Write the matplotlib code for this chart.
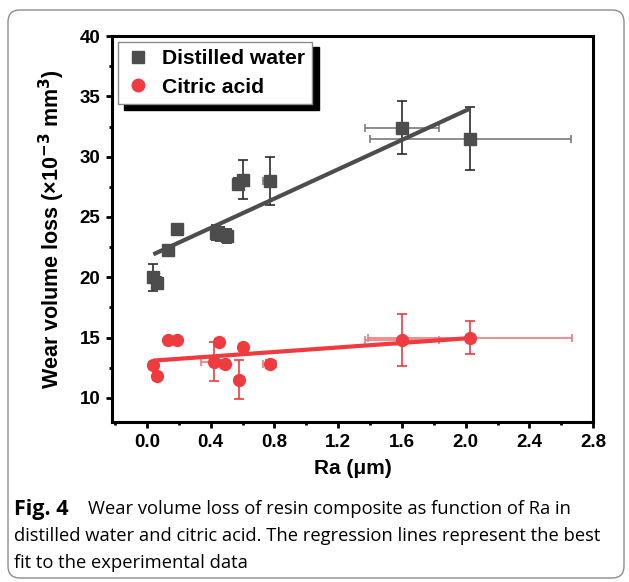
import matplotlib
matplotlib.use("Agg")
import numpy as np
import matplotlib.pyplot as plt
from matplotlib.lines import Line2D
from matplotlib.patches import FancyBboxPatch
from matplotlib.ticker import MultipleLocator
from matplotlib.transforms import IdentityTransform

plt.rcParams["font.family"] = ["Liberation Sans", "DejaVu Sans"]

# 증류수 (distilled water)
water_ra = [0.04, 0.06, 0.13, 0.19, 0.43, 0.46, 0.50, 0.57, 0.60, 0.77, 1.60, 2.03]
water_wear = [20.0, 19.5, 22.3, 24.0, 23.7, 23.6, 23.4, 27.7, 28.1, 28.0, 32.4, 31.5]
water_ra_err = [0.01, 0.01, 0.02, 0.01, 0.03, 0.03, 0.04, 0.03, 0.02, 0.04, 0.23, 0.63]
water_wear_err = [1.1, 0.5, 0.3, 0.2, 0.6, 0.6, 0.6, 0.5, 1.6, 2.0, 2.2, 2.6]
water_fit = (21.66, 6.08)  # 절편, 기울기

# 구연산 (citric acid)
citric_ra = [0.04, 0.06, 0.13, 0.19, 0.42, 0.45, 0.49, 0.58, 0.60, 0.77, 1.60, 2.03]
citric_wear = [12.7, 11.8, 14.8, 14.8, 13.0, 14.6, 12.8, 11.5, 14.2, 12.8, 14.8, 15.0]
citric_ra_err = [0.01, 0.01, 0.02, 0.02, 0.08, 0.02, 0.03, 0.03, 0.02, 0.04, 0.23, 0.64]
citric_wear_err = [0.3, 0.3, 0.2, 0.2, 1.6, 0.3, 0.3, 1.6, 0.2, 0.3, 2.15, 1.4]
citric_fit = (13.05, 0.94)

water_color = "#4d4d4d"
citric_color = "#ee3b3f"

fig = plt.figure(figsize=(6.29, 5.82), dpi=100)
ax = fig.add_axes([0.178, 0.275, 0.765, 0.663])

def draw_series(ra, wear, ra_err, wear_err, fit, color, xcolor, ycolor, marker, ms):
    ax.errorbar(ra, wear, xerr=ra_err, fmt="none", ecolor=xcolor, elinewidth=1.2,
                capsize=3, capthick=1.2, zorder=2)
    ax.errorbar(ra, wear, yerr=wear_err, fmt="none", ecolor=ycolor, elinewidth=1.2,
                capsize=3.5, capthick=1.2, zorder=2)
    ax.plot(ra, wear, linestyle="none", marker=marker, ms=ms, color=color, zorder=3)
    fx = np.array([min(ra), max(ra)])
    ax.plot(fx, fit[0] + fit[1] * fx, color=color, lw=3, zorder=4, solid_capstyle="butt")

draw_series(water_ra, water_wear, water_ra_err, water_wear_err, water_fit,
            water_color, "#7a7a7a", "#2b2b2b", "s", 8)
draw_series(citric_ra, citric_wear, citric_ra_err, citric_wear_err, citric_fit,
            citric_color, "#f07a7a", citric_color, "o", 8.5)

ax.set_xlim(-0.22, 2.8)
ax.set_ylim(8, 40)
ax.xaxis.set_major_locator(MultipleLocator(0.4))
ax.xaxis.set_minor_locator(MultipleLocator(0.2))
ax.yaxis.set_major_locator(MultipleLocator(5))
ax.yaxis.set_minor_locator(MultipleLocator(2.5))
ax.set_xticks(np.arange(0, 2.81, 0.4))
ax.set_xticklabels(["0.0", "0.4", "0.8", "1.2", "1.6", "2.0", "2.4", "2.8"])

for s in ax.spines.values():
    s.set_linewidth(2.2)
ax.tick_params(which="major", direction="out", length=4.5, width=2, labelsize=13.5, pad=4)
ax.tick_params(which="minor", direction="out", length=2.5, width=2)
for lab in ax.get_xticklabels() + ax.get_yticklabels():
    lab.set_fontweight("bold")

ax.set_xlabel("Ra (\u03bcm)", fontsize=15, fontweight="bold", labelpad=6)
ax.set_ylabel("Wear volume loss (\u00d710$^{\\mathbf{-3}}$ mm$^{\\mathbf{3}}$)",
              fontsize=15.5, fontweight="bold", labelpad=9)

handles = [
    Line2D([], [], linestyle="none", marker="s", ms=8, color=water_color),
    Line2D([], [], linestyle="none", marker="o", ms=9, color=citric_color),
]
leg = ax.legend(handles, ["Distilled water", "Citric acid"], loc="upper left",
                bbox_to_anchor=(0.012, 0.985), borderaxespad=0, fancybox=False,
                prop={"size": 15.2, "weight": "bold"}, handletextpad=0.55,
                labelspacing=0.45, borderpad=0.35, handlelength=1.2,
                shadow={"ox": 4.5, "oy": -4, "color": "black", "alpha": 1})
leg.get_frame().set_edgecolor("#8a8a8a")
leg.get_frame().set_linewidth(1)
leg.get_frame().set_alpha(1)

# 캡션
cap_font = ["Open Sans", "DejaVu Sans"]
fig.text(14 / 629, 1 - 509 / 582, "Fig. 4", fontsize=15.5, fontweight="bold",
         family=cap_font, va="center", ha="left")
fig.text(88 / 629, 1 - 509 / 582, "Wear volume loss of resin composite as function of Ra in",
         fontsize=13.2, family=cap_font, va="center", ha="left")
fig.text(14 / 629, 1 - 536 / 582,
         "distilled water and citric acid. The regression lines represent the best",
         fontsize=13.2, family=cap_font, va="center", ha="left")
fig.text(14 / 629, 1 - 563 / 582, "fit to the experimental data",
         fontsize=13.2, family=cap_font, va="center", ha="left")

# 테두리
border = FancyBboxPatch((8, 582 - 578), 616, 568, boxstyle="round,pad=0,rounding_size=12",
                        transform=IdentityTransform(), fill=False, edgecolor="#8c8c8c",
                        linewidth=1)
fig.patches.append(border)

fig.savefig("out.png", dpi=100)
